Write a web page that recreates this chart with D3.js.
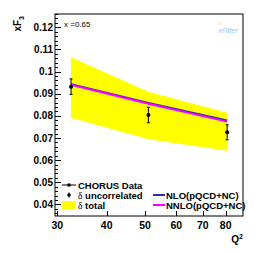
<!doctype html>
<html>
<head>
<meta charset="utf-8">
<script src="https://cdn.jsdelivr.net/npm/d3@7"></script>
<style>
  body { margin: 0; background: #fff; }
  text { font-family: "Liberation Sans", Arial, sans-serif; }
</style>
</head>
<body>
<script>
  // values
  const q2 = [32.5, 51, 80.7];
  const xf3 = [0.0932, 0.0804, 0.0726];
  const errUncorr = [0.0035, 0.0035, 0.0034];
  const bandHigh = [0.1065, 0.0909, 0.0814];
  const bandLow = [0.0792, 0.0694, 0.0643];
  const nlo = [0.0943, 0.0858, 0.0779];
  const nnlo = [0.0941, 0.0855, 0.0774];
  const xTicks = [30, 40, 50, 60, 70, 80];
  const yTicks = [0.04, 0.05, 0.06, 0.07, 0.08, 0.09, 0.1, 0.11, 0.12];

  const W = 266, H = 253;
  const L = 55, R = 243, T = 14, B = 216;

  const svg = d3.select('body').append('svg')
      .attr('width', W).attr('height', H);

  const x = d3.scaleLog().domain([29.6, 88.5]).range([L, R]);
  const y = d3.scaleLinear().domain([0.0348, 0.126]).range([B, T]);

  // total uncertainty band
  const area = d3.area()
      .x((d, i) => x(q2[i]))
      .y0((d, i) => y(bandLow[i]))
      .y1((d, i) => y(bandHigh[i]));
  svg.append('path').datum(q2).attr('d', area).attr('fill', '#ffff00');

  // theory curves
  const line = arr => d3.line().x((d, i) => x(q2[i])).y((d, i) => y(arr[i]))(q2);
  svg.append('path').attr('d', line(nlo)).attr('fill', 'none')
      .attr('stroke', '#2b2bb3').attr('stroke-width', 2);
  svg.append('path').attr('d', line(nnlo)).attr('fill', 'none')
      .attr('stroke', '#ff00ff').attr('stroke-width', 2);

  // data points
  const pts = svg.append('g');
  q2.forEach((q, i) => {
    const px = x(q);
    pts.append('line').attr('x1', px).attr('x2', px)
        .attr('y1', y(xf3[i] - errUncorr[i])).attr('y2', y(xf3[i] + errUncorr[i]))
        .attr('stroke', '#000').attr('stroke-width', 1);
    [xf3[i] - errUncorr[i], xf3[i] + errUncorr[i]].forEach(v => {
      pts.append('line').attr('x1', px - 1.5).attr('x2', px + 1.5)
          .attr('y1', y(v)).attr('y2', y(v)).attr('stroke', '#000');
    });
    pts.append('circle').attr('cx', px).attr('cy', y(xf3[i])).attr('r', 2).attr('fill', '#000');
  });

  // frame
  svg.append('rect').attr('x', L).attr('y', T).attr('width', R - L).attr('height', B - T)
      .attr('fill', 'none').attr('stroke', '#000').attr('stroke-width', 1);

  // y axis ticks (inside)
  const minor = d3.range(0.036, 0.1261, 0.002);
  minor.forEach(v => {
    const major = yTicks.some(t => Math.abs(t - v) < 1e-6);
    svg.append('line').attr('x1', L).attr('x2', L + (major ? 6 : 3))
        .attr('y1', Math.round(y(v)) + 0.5).attr('y2', Math.round(y(v)) + 0.5)
        .attr('stroke', '#000');
  });
  svg.append('g').selectAll('text').data(yTicks).join('text')
      .attr('x', L - 2).attr('y', d => y(d) + 3.5)
      .attr('text-anchor', 'end').attr('font-size', 10).attr('font-weight', 'bold')
      .text(d => d3.format('.2~f')(d));

  // x axis ticks
  xTicks.forEach(t => {
    svg.append('line').attr('x1', Math.round(x(t)) + 0.5).attr('x2', Math.round(x(t)) + 0.5)
        .attr('y1', B).attr('y2', B - 5).attr('stroke', '#000');
  });
  svg.append('g').selectAll('text').data(xTicks).join('text')
      .attr('x', d => x(d)).attr('y', B + 13)
      .attr('text-anchor', 'middle').attr('font-size', 10.5).attr('font-weight', 'bold')
      .text(d => d);

  // axis titles
  const xt = svg.append('text').attr('x', R).attr('y', 243)
      .attr('text-anchor', 'end').attr('font-size', 10).attr('font-weight', 'bold');
  xt.append('tspan').text('Q');
  xt.append('tspan').attr('dy', -4).attr('font-size', 7).text('2');

  const yt = svg.append('text').attr('transform', `translate(21,${T + 2}) rotate(-90)`)
      .attr('text-anchor', 'end').attr('font-size', 10).attr('font-weight', 'bold');
  yt.append('tspan').text('xF');
  yt.append('tspan').attr('dy', 3).attr('font-size', 7).text('3');

  svg.append('text').attr('x', 64).attr('y', 27).attr('font-size', 8).text('x =0.65');

  // xFitter logo
  svg.append('text').attr('x', 228).attr('y', 33).attr('text-anchor', 'middle')
      .attr('font-size', 7).attr('font-style', 'italic').attr('fill', '#8cc8f0')
      .text('xFitter');
  svg.append('circle').attr('cx', 220).attr('cy', 24).attr('r', 0.8).attr('fill', '#f5c060');

  // legend left
  const lg = svg.append('g').attr('font-size', 9.5).attr('font-weight', 'bold');
  const ly = [185, 195, 205];
  lg.append('line').attr('x1', 62).attr('x2', 76).attr('y1', ly[0]).attr('y2', ly[0]).attr('stroke', '#000');
  lg.append('circle').attr('cx', 69).attr('cy', ly[0]).attr('r', 1.8);
  lg.append('line').attr('x1', 69).attr('x2', 69).attr('y1', ly[1] - 2.5).attr('y2', ly[1] + 2.5).attr('stroke', '#000');
  lg.append('circle').attr('cx', 69).attr('cy', ly[1]).attr('r', 1.8);
  lg.append('rect').attr('x', 62).attr('y', ly[2] - 4).attr('width', 14).attr('height', 8).attr('fill', '#ffff00');
  lg.append('text').attr('x', 78).attr('y', ly[0] + 3.5).text('CHORUS Data');
  const t1 = lg.append('text').attr('x', 78).attr('y', ly[1] + 3.5);
  t1.append('tspan').attr('font-family', 'Liberation Serif, serif').attr('font-weight', 'normal').text('δ');
  t1.append('tspan').text(' uncorrelated');
  const t2 = lg.append('text').attr('x', 78).attr('y', ly[2] + 3.5);
  t2.append('tspan').attr('font-family', 'Liberation Serif, serif').attr('font-weight', 'normal').text('δ');
  t2.append('tspan').text(' total');

  // legend right
  const rg = svg.append('g').attr('font-size', 9.5).attr('font-weight', 'bold');
  [['NLO(pQCD+NC)', '#2b2bb3', 195], ['NNLO(pQCD+NC)', '#ff00ff', 205]].forEach(([name, c, yy]) => {
    rg.append('line').attr('x1', 153).attr('x2', 165).attr('y1', yy).attr('y2', yy)
        .attr('stroke', c).attr('stroke-width', 2);
    rg.append('text').attr('x', 166).attr('y', yy + 3.5).text(name);
  });
</script>
</body>
</html>
